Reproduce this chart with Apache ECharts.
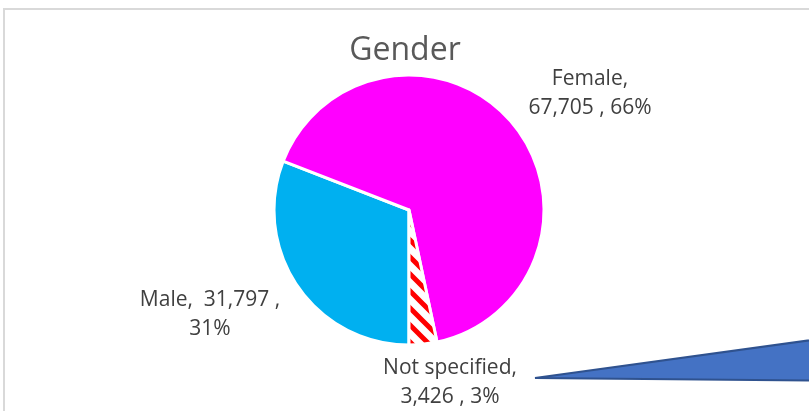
<!DOCTYPE html>
<html>
<head>
<meta charset="utf-8">
<script src="https://cdn.jsdelivr.net/npm/echarts@6/dist/echarts.min.js"></script>
<style>
html,body{margin:0;padding:0;background:#fff;}
#chart{width:809px;height:411px;}
</style>
</head>
<body>
<div id="chart"></div>
<script>
// ---- data ----
var title = 'Gender';
var categories = ['Male', 'Female', 'Not specified'];
var values = [31797, 67705, 3426];
// where the label text wraps: after the value or after the name
var labelBreak = ['value', 'name', 'name'];

// ---- layout / style ----
var colors = ['#00B0F0', '#FF00FF', null];
var labelPos = [[210, 315], [590, 94], [450, 383]];

function stripePattern() {
  var s = 17;
  var c = document.createElement('canvas');
  c.width = s; c.height = s;
  var g = c.getContext('2d');
  g.fillStyle = '#ffffff';
  g.fillRect(0, 0, s, s);
  g.strokeStyle = '#FF0000';
  g.lineWidth = 5;
  g.beginPath();
  g.moveTo(-s, -s); g.lineTo(2 * s, 2 * s);
  g.moveTo(-s, 0); g.lineTo(s, 2 * s);
  g.moveTo(0, -s); g.lineTo(2 * s, s);
  g.stroke();
  return c;
}

function fmt(n) { return n.toString().replace(/\B(?=(\d{3})+(?!\d))/g, ','); }

var data = categories.map(function (name, i) {
  var col = colors[i] ? colors[i] : { image: stripePattern(), repeat: 'repeat' };
  return { name: name, value: values[i], itemStyle: { color: col } };
});

var chart = echarts.init(document.getElementById('chart'), null, { renderer: 'canvas' });
chart.setOption({
  animation: false,
  backgroundColor: '#ffffff',
  title: {
    text: title,
    left: 400,
    top: 30,
    textAlign: 'center',
    textStyle: { fontFamily: 'Open Sans', fontWeight: 'normal', fontSize: 32, color: '#595959' }
  },
  graphic: [
    {
      type: 'rect', z: -1, silent: true,
      shape: { x: 4, y: 9, width: 900, height: 500 },
      style: { fill: null, stroke: '#D9D9D9', lineWidth: 2 }
    },
    {
      type: 'polygon', z: 10, silent: true,
      shape: { points: [[535, 378], [870, 332], [870, 381]] },
      style: { fill: '#4472C4', stroke: '#2F528F', lineWidth: 2, lineJoin: 'miter' }
    }
  ],
  series: [{
    type: 'pie',
    center: [409, 210],
    radius: 135,
    startAngle: 270,
    clockwise: true,
    data: data,
    itemStyle: { borderColor: '#ffffff', borderWidth: 3 },
    emphasis: { disabled: true },
    labelLine: { show: false },
    label: {
      show: true,
      position: 'outside',
      fontFamily: 'Open Sans',
      fontSize: 21,
      lineHeight: 29,
      color: '#404040',
      align: 'center',
      formatter: function (p) {
        var b = labelBreak[p.dataIndex];
        var v = fmt(p.value);
        if (b === 'value') return p.name + ',  ' + v + ' ,\n' + Math.round(p.percent) + '%';
        return p.name + ',\n' + v + ' , ' + Math.round(p.percent) + '%';
      }
    },
    labelLayout: function (params) {
      var pos = labelPos[params.dataIndex];
      return { x: pos[0], y: pos[1], align: 'center', verticalAlign: 'middle' };
    }
  }]
});
</script>
</body>
</html>
